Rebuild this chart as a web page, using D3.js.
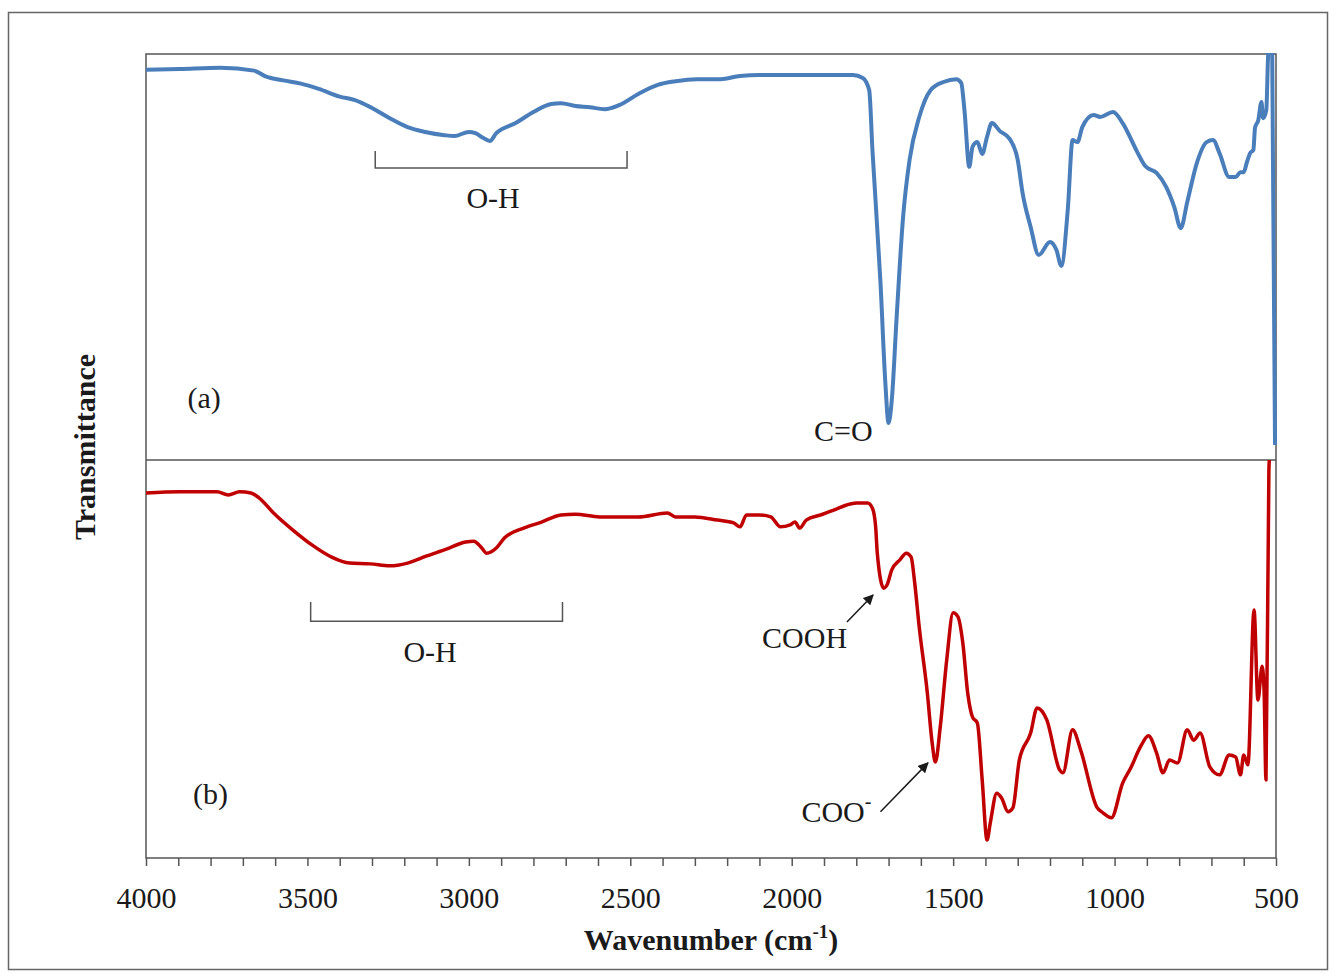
<!DOCTYPE html>
<html>
<head>
<meta charset="utf-8">
<script src="https://cdn.jsdelivr.net/npm/d3@7"></script>
<style>
body { margin: 0; background: #fff; }
text { font-family: "Liberation Serif", "Times New Roman", serif; fill: #1a1a1a; }
</style>
</head>
<body>
<div id="chart"></div>
<script>
const WIDTH = 1336;
const HEIGHT = 977;
const LEFT = 146, RIGHT = 1276;
const TOP = 54, MID = 460, BOTTOM = 858;

// spectrum (a): wavenumber (cm-1) and transmittance (arbitrary %)
var waveA = [4000, 3895, 3770, 3665, 3630, 3575, 3520, 3465, 3400, 3355, 3300, 3245, 3190, 3135, 3075, 3045,
    3000, 2980, 2955, 2935, 2915, 2855, 2800, 2745, 2715, 2670, 2625, 2580, 2535, 2470, 2415, 2360, 2295,
    2220, 2160, 2100, 1975, 1810, 1780, 1760, 1750, 1725, 1710, 1700, 1690, 1675, 1655, 1635, 1605, 1570,
    1530, 1490, 1475, 1465, 1450, 1440, 1425, 1410, 1395, 1380, 1355, 1325, 1300, 1285, 1260, 1235, 1200,
    1180, 1165, 1145, 1130, 1115, 1100, 1065, 1045, 1005, 975, 930, 905, 870, 840, 815, 795, 775, 745, 715,
    695, 675, 645, 625, 610, 600, 590, 580, 570, 565, 555, 545, 540, 530, 525, 520, 512, 503];
var transA = [96.1, 96.3, 96.6, 95.9, 94.5, 93.5, 92.7, 91.4, 89.5, 88.7, 86.7, 84.2, 82.0, 80.8, 80.0, 79.8,
    80.8, 80.5, 79.3, 78.6, 80.5, 83.0, 85.7, 87.7, 87.9, 87.2, 86.9, 86.4, 87.4, 90.4, 92.4, 93.3, 93.8,
    93.8, 94.6, 94.8, 94.8, 94.8, 94.1, 91.1, 76.4, 43.6, 19.0, 9.1, 14.8, 35.2, 59.9, 73.9, 84.5, 91.1,
    93.1, 93.8, 92.9, 86.2, 72.2, 77.1, 78.3, 75.4, 79.6, 83.0, 81.0, 79.1, 73.9, 65.8, 57.4, 50.5, 53.7,
    51.7, 47.8, 61.6, 78.8, 78.3, 82.0, 85.0, 84.5, 85.7, 83.0, 75.9, 72.4, 70.7, 67.2, 62.3, 57.1, 63.5, 73.2, 78.3,
    78.8, 75.6, 69.7, 69.7, 70.9, 70.9, 73.4, 75.6, 76.4, 81.8, 83.7, 88.2, 84.2, 86.2, 98.5, 106, 103, 3.7];

// spectrum (b)
var waveB = [4000, 3895, 3780, 3745, 3710, 3675, 3650, 3605, 3545, 3485, 3425, 3370, 3305, 3245, 3190, 3130,
    3070, 3010, 2985, 2960, 2945, 2915, 2890, 2830, 2775, 2715, 2670, 2595, 2475, 2385, 2360, 2300, 2230,
    2180, 2160, 2140, 2100, 2065, 2035, 2005, 1990, 1975, 1955, 1910, 1870, 1830, 1800, 1765, 1750, 1740,
    1735, 1715, 1705, 1690, 1665, 1645, 1630, 1620, 1605, 1580, 1565, 1555, 1540, 1520, 1500, 1485, 1470,
    1455, 1440, 1425, 1410, 1395, 1385, 1365, 1350, 1330, 1315, 1295, 1260, 1240, 1210, 1170, 1160, 1130,
    1105, 1055, 1035, 1010, 975, 950, 920, 895, 870, 850, 830, 805, 775, 755, 735, 705, 675, 645, 625, 610,
    600, 587, 568, 556, 543, 537, 531, 522, 516];
var transB = [91.7, 92.0, 92.0, 91.2, 92.0, 91.7, 90.5, 86.7, 82.4, 78.6, 75.6, 74.1, 73.9, 73.4, 74.1, 75.9,
    77.6, 79.4, 79.6, 77.9, 76.6, 77.9, 80.4, 82.9, 84.4, 86.2, 86.4, 85.7, 85.7, 86.7, 85.7, 85.7, 84.9,
    84.2, 83.2, 86.2, 86.2, 85.7, 83.2, 83.7, 84.4, 82.9, 84.9, 86.2, 87.4, 88.7, 89.2, 89.2, 87.9, 83.2,
    76.6, 67.8, 68.6, 72.4, 74.9, 76.6, 75.6, 69.8, 58.0, 41.5, 28.9, 24.1, 32.9, 49.7, 61.6, 60.6, 54.0,
    41.5, 35.4, 33.9, 19.6, 4.5, 8.8, 16.3, 15.1, 11.6, 12.6, 24.6, 31.4, 37.7, 34.7, 22.1, 21.4, 32.2,
    27.1, 12.8, 11.3, 10.1, 18.8, 22.6, 27.9, 30.7, 26.4, 21.4, 24.6, 23.9, 32.2, 29.6, 31.4, 22.9, 20.9, 25.9, 25.4, 20.9,
    25.9, 23.4, 62.3, 39.7, 48.2, 42.2, 19.6, 97.5, 105];

var xTickValues = d3.range(500, 4001, 100);
var xTickLabels = [4000, 3500, 3000, 2500, 2000, 1500, 1000, 500];

// annotation brackets [from, to] in cm-1
var bracketA = [3290, 2510];
var bracketB = [3490, 2710];

var COLOR_A = '#4a7ebb';
var COLOR_B = '#c00000';
var FRAME = '#555';

var zip = function (w, t) {
    return w.map(function (d, i) { return [d, t[i]]; });
};

var svg = d3.select('#chart').append('svg')
    .attr('width', WIDTH)
    .attr('height', HEIGHT);

// outer figure border
svg.append('rect')
    .attr('x', 8.5).attr('y', 12.5)
    .attr('width', 1319).attr('height', 957)
    .attr('fill', 'none').attr('stroke', '#666').attr('stroke-width', 1.5);

var x = d3.scaleLinear().domain([4000, 500]).range([LEFT, RIGHT]);
var yA = d3.scaleLinear().domain([0, 100]).range([MID, TOP]);
var yB = d3.scaleLinear().domain([0, 100]).range([BOTTOM, MID]);

var defs = svg.append('defs');
defs.append('clipPath').attr('id', 'clipA').append('rect')
    .attr('x', LEFT).attr('y', TOP - 1).attr('width', RIGHT - LEFT + 2).attr('height', MID - TOP + 1);
defs.append('clipPath').attr('id', 'clipB').append('rect')
    .attr('x', LEFT).attr('y', MID).attr('width', RIGHT - LEFT + 2).attr('height', BOTTOM - MID);
defs.append('marker').attr('id', 'arrow')
    .attr('viewBox', '0 0 10 10').attr('refX', 9).attr('refY', 5)
    .attr('markerWidth', 7).attr('markerHeight', 7).attr('orient', 'auto')
    .append('path').attr('d', 'M0,0 L10,5 L0,10 z').attr('fill', '#1a1a1a');

// frames
svg.append('rect')
    .attr('x', LEFT).attr('y', TOP)
    .attr('width', RIGHT - LEFT).attr('height', BOTTOM - TOP)
    .attr('fill', 'none').attr('stroke', FRAME).attr('stroke-width', 1.5);
svg.append('line')
    .attr('x1', LEFT).attr('x2', RIGHT).attr('y1', MID).attr('y2', MID)
    .attr('stroke', FRAME).attr('stroke-width', 1.5);

// x axis
var xAxis = d3.axisBottom(x)
    .tickValues(xTickValues)
    .tickSizeInner(8).tickSizeOuter(0).tickPadding(21)
    .tickFormat(function (d) { return xTickLabels.indexOf(d) >= 0 ? d : ''; });
var gx = svg.append('g')
    .attr('transform', 'translate(0,' + BOTTOM + ')')
    .call(xAxis);
gx.select('.domain').remove();
gx.selectAll('line').attr('stroke', FRAME).attr('stroke-width', 1.5);
gx.selectAll('text').attr('font-size', 30).attr('fill', '#1a1a1a')
    .style('font-family', '"Liberation Serif", serif');

// spectra
var lineA = d3.line().x(function (d) { return x(d[0]); }).y(function (d) { return yA(d[1]); })
    .curve(d3.curveMonotoneX);
var lineB = d3.line().x(function (d) { return x(d[0]); }).y(function (d) { return yB(d[1]); })
    .curve(d3.curveMonotoneX);

svg.append('path')
    .attr('d', lineA(zip(waveA, transA)))
    .attr('clip-path', 'url(#clipA)')
    .attr('fill', 'none').attr('stroke', COLOR_A).attr('stroke-width', 4)
    .attr('stroke-linejoin', 'round');
svg.append('path')
    .attr('d', lineB(zip(waveB, transB)))
    .attr('clip-path', 'url(#clipB)')
    .attr('fill', 'none').attr('stroke', COLOR_B).attr('stroke-width', 3.5)
    .attr('stroke-linejoin', 'round');

// brackets
var bracket = function (range, y, top, bottom) {
    svg.append('path')
        .attr('d', 'M' + x(range[0]) + ',' + y(top) + 'V' + y(bottom) + 'H' + x(range[1]) + 'V' + y(top))
        .attr('fill', 'none').attr('stroke', FRAME).attr('stroke-width', 1.5);
};
bracket(bracketA, yA, 76.1, 71.9);
bracket(bracketB, yB, 64.3, 59.5);

var label = function (txt, w, t, y, anchor) {
    return svg.append('text')
        .attr('x', x(w)).attr('y', y(t))
        .attr('text-anchor', anchor || 'middle')
        .attr('font-size', 30)
        .text(txt);
};
label('O-H', 2925, 62.1, yA);
label('(a)', 3820, 12.8, yA);
label('C=O', 1840, 4.7, yA);
label('O-H', 3120, 49.2, yB);
label('(b)', 3800, 13.6, yB);
label('COOH', 1960, 52.8, yB);
var coo = label('COO', 1970, 9.0, yB, 'start');
coo.append('tspan').attr('font-size', 20).attr('dy', -14).text('-');

var arrow = function (w1, t1, w2, t2) {
    svg.append('line')
        .attr('x1', x(w1)).attr('y1', yB(t1))
        .attr('x2', x(w2)).attr('y2', yB(t2))
        .attr('stroke', '#1a1a1a').attr('stroke-width', 1.5)
        .attr('marker-end', 'url(#arrow)');
};
arrow(1829, 59.3, 1748, 66.1);
arrow(1725, 11.6, 1578, 23.9);

// axis titles
var xt = svg.append('text')
    .attr('x', 711).attr('y', 950)
    .attr('text-anchor', 'middle')
    .attr('font-size', 30).attr('font-weight', 'bold')
    .text('Wavenumber (cm');
xt.append('tspan').attr('font-size', 19).attr('dy', -12).text('-1');
xt.append('tspan').attr('dy', 12).text(')');

svg.append('text')
    .attr('transform', 'translate(95,447) rotate(-90)')
    .attr('text-anchor', 'middle')
    .attr('font-size', 30).attr('font-weight', 'bold')
    .text('Transmittance');
</script>
</body>
</html>
